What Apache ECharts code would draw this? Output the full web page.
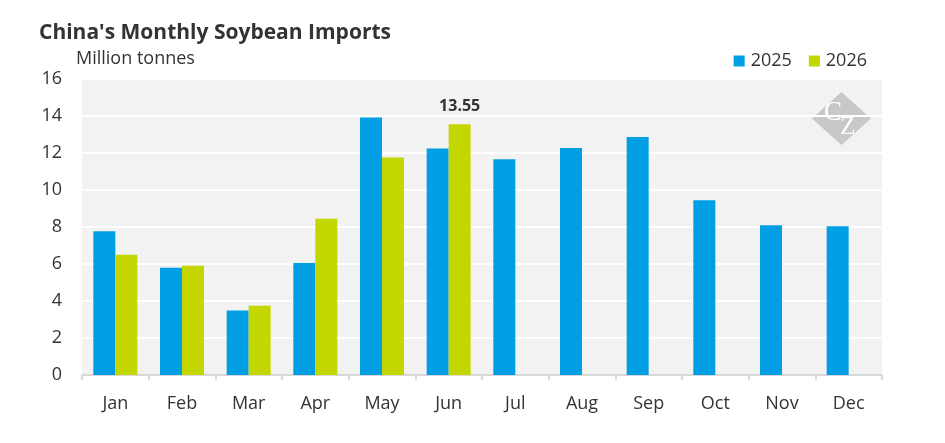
<!DOCTYPE html>
<html>
<head>
<meta charset="utf-8">
<script src="https://cdn.jsdelivr.net/npm/echarts@6/dist/echarts.min.js"></script>
<style>
html,body{margin:0;padding:0;background:#fff;}
#chart{width:945px;height:443px;}
</style>
</head>
<body>
<div id="chart"></div>
<script>
const months = ['Jan','Feb','Mar','Apr','May','Jun','Jul','Aug','Sep','Oct','Nov','Dec'];
const imports2025 = [7.77, 5.80, 3.48, 6.05, 13.92, 12.25, 11.66, 12.27, 12.86, 9.45, 8.10, 8.04];
const imports2026 = [6.50, 5.91, 3.74, 8.45, 11.76, 13.55, null, null, null, null, null, null];
const yTicks = [0, 2, 4, 6, 8, 10, 12, 14, 16];
const labelledIndex2026 = 5;

const FONT = '"Open Sans", "Noto Sans", sans-serif';
const TXT = '#333333';

const chart = echarts.init(document.getElementById('chart'), null, {renderer: 'canvas'});

const option = {
  animation: false,
  backgroundColor: '#ffffff',
  textStyle: {fontFamily: FONT},
  title: [
    {text: "China's Monthly Soybean Imports", left: 39, top: 20, padding: 0,
     textStyle: {fontFamily: FONT, fontSize: 21, fontWeight: 'bold', color: TXT, lineHeight: 26}},
    {text: 'Million tonnes', left: 76, top: 47, padding: 0,
     textStyle: {fontFamily: FONT, fontSize: 18, fontWeight: 'normal', color: TXT, lineHeight: 24}}
  ],
  legend: {
    right: 78, top: 52, padding: 0,
    itemWidth: 11, itemHeight: 11, itemGap: 17,
    icon: 'rect',
    textStyle: {fontFamily: FONT, fontSize: 18, color: TXT, padding: [0, 0, 0, 1]},
    data: ['2025', '2026']
  },
  grid: {
    left: 82, right: 63, top: 79, bottom: 68,
    show: true, backgroundColor: '#f2f2f2', borderWidth: 0,
    containLabel: false
  },
  xAxis: {
    type: 'category',
    data: months,
    axisLine: {show: true, lineStyle: {color: '#d9d9d9', width: 2}},
    axisTick: {show: true, alignWithLabel: false, length: 5, lineStyle: {color: '#d9d9d9', width: 2}},
    axisLabel: {fontFamily: FONT, fontSize: 18, color: TXT, margin: 20},
    splitLine: {show: false}
  },
  yAxis: {
    type: 'value',
    min: yTicks[0], max: yTicks[yTicks.length - 1], interval: yTicks[1] - yTicks[0],
    axisLine: {show: false},
    axisTick: {show: false},
    axisLabel: {fontFamily: FONT, fontSize: 18, color: TXT, margin: 20, padding: [3, 0, 0, 0]},
    splitLine: {show: true, lineStyle: {color: '#ffffff', width: 2}}
  },
  series: [
    {
      name: '2025', type: 'bar', data: imports2025,
      barWidth: 22, barGap: '0%',
      itemStyle: {color: '#009fe3'}
    },
    {
      name: '2026', type: 'bar',
      data: imports2026.map((v, i) => i === labelledIndex2026
        ? {value: v, label: {show: true}} : v),
      barWidth: 22, barGap: '0%',
      itemStyle: {color: '#c4d600'},
      label: {
        show: false, position: 'top', distance: 10,
        fontFamily: FONT, fontSize: 16, fontWeight: 'bold', color: TXT,
        formatter: p => p.value.toFixed(2)
      }
    }
  ],
  graphic: [
    {
      type: 'polygon', silent: true, z: 0,
      shape: {points: [[841.5, 92], [871, 118.5], [841.5, 145], [812, 118.5]]},
      style: {fill: '#c8c8c8'}
    },
    {
      type: 'text', silent: true, z: 1, x: 833, y: 113,
      style: {text: 'C', fill: '#ffffff', font: '27px "Liberation Serif", "DejaVu Serif", serif',
              align: 'center', verticalAlign: 'middle'}
    },
    {
      type: 'text', silent: true, z: 1, x: 848, y: 127,
      style: {text: 'Z', fill: '#ffffff', font: '25px "Liberation Serif", "DejaVu Serif", serif',
              align: 'center', verticalAlign: 'middle'}
    }
  ]
};

chart.setOption(option);
</script>
</body>
</html>
